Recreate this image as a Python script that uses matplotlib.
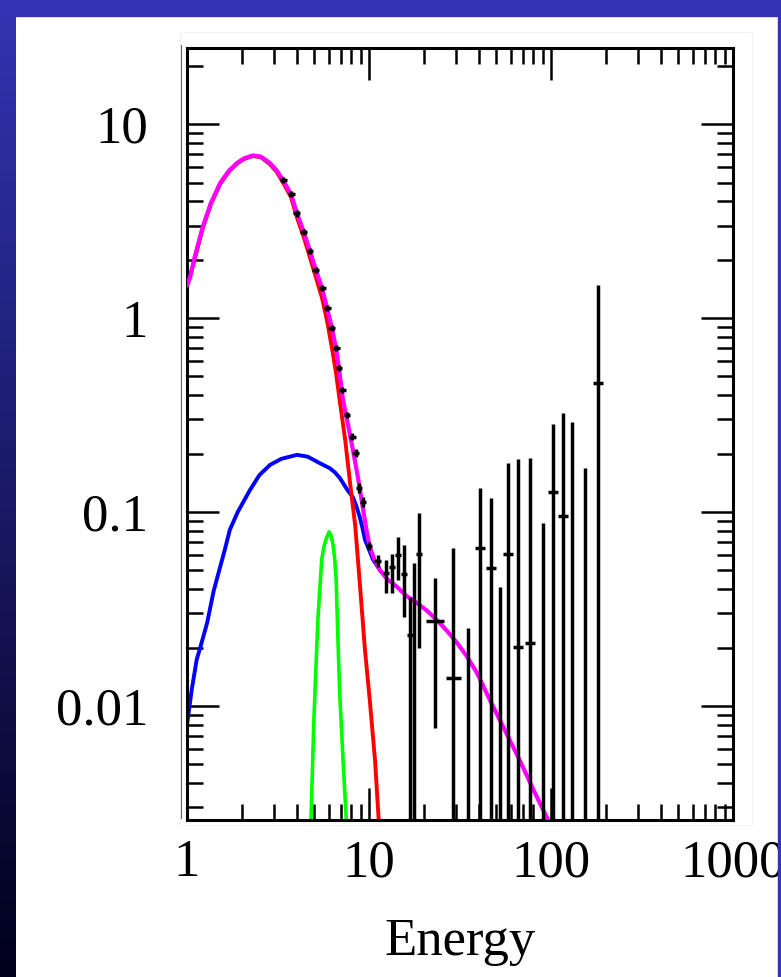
import numpy as np
import matplotlib.pyplot as plt
from matplotlib.lines import Line2D
from matplotlib.patches import Rectangle
from matplotlib.ticker import FixedLocator, FuncFormatter, NullFormatter

plt.rcParams['font.family'] = ['Liberation Serif', 'DejaVu Serif']

# model components
tot_e = [1.0, 1.04, 1.1, 1.22, 1.35, 1.52, 1.7, 1.88, 2.05, 2.30, 2.55, 2.86,
         3.1, 3.37, 3.73, 4.02, 4.39, 4.74, 5.11, 5.52, 5.88, 6.26, 6.59, 6.84,
         7.2, 7.57, 8.16, 8.7, 9.3, 9.7, 10.1, 10.7, 11.5, 12.6, 14.3, 16.0,
         18.3, 20.8, 23.6, 26.8, 30.5, 34.5, 39.2, 46.2, 55.0, 67.6, 80.0, 96.0,
         105.0]
tot_f = [1.48, 1.62, 2.05, 2.95, 3.9, 4.97, 5.75, 6.3, 6.65, 6.9, 6.8, 6.3,
         5.8, 5.14, 4.36, 3.47, 2.77, 2.21, 1.77, 1.43, 1.13, 0.887, 0.70, 0.552,
         0.377, 0.30, 0.209, 0.15, 0.102, 0.080, 0.066, 0.057, 0.050, 0.045, 0.041,
         0.037, 0.034, 0.031, 0.0277, 0.0244, 0.0211, 0.018, 0.0148, 0.0107, 0.0077,
         0.0052, 0.0037, 0.0026, 0.0019]

bb_e = [1.0, 1.1, 1.22, 1.35, 1.52, 1.7, 1.88, 2.05, 2.30, 2.55, 2.86, 3.1,
        3.37, 3.73, 4.02, 4.39, 4.74, 5.11, 5.52, 5.88, 6.26, 6.59, 6.9, 7.4,
        7.87, 8.4, 8.9, 9.5, 10.1, 10.8, 11.3, 11.6]
bb_f = [1.45, 2.0, 2.9, 3.85, 4.9, 5.7, 6.25, 6.6, 6.85, 6.75, 6.2, 5.7,
        5.0, 4.2, 3.3, 2.6, 2.05, 1.62, 1.27, 0.97, 0.70, 0.52, 0.377, 0.235,
        0.141, 0.085, 0.043, 0.0195, 0.0107, 0.0052, 0.0026, 0.0018]

pl_e = [1.0, 1.06, 1.13, 1.2, 1.29, 1.4, 1.52, 1.6, 1.72, 1.9, 2.22, 2.5, 2.86,
        3.3, 4.02, 4.6, 5.4, 6.1, 6.5, 6.9, 7.2, 7.6, 8.16, 8.5, 8.9, 9.2, 9.5,
        10.0, 10.5, 11.5]
pl_f = [0.008, 0.012, 0.0173, 0.021, 0.0268, 0.039, 0.052, 0.062, 0.081, 0.10,
        0.13, 0.155, 0.175, 0.188, 0.197, 0.193, 0.178, 0.168, 0.160, 0.150,
        0.141, 0.130, 0.119, 0.108, 0.094, 0.083, 0.072, 0.064, 0.057, 0.050]

fe_e = [4.75, 4.80, 4.98, 5.1, 5.24, 5.5, 5.65, 5.8, 6.03, 6.18, 6.34, 6.47,
        6.6, 6.75, 6.9, 7.2, 7.5, 7.6]
fe_f = [0.0018, 0.0026, 0.0085, 0.015, 0.028, 0.057, 0.066, 0.072, 0.079, 0.076,
        0.068, 0.058, 0.045, 0.022, 0.0118, 0.0053, 0.0026, 0.0018]

# data points: energy, flux, lower / upper flux, bin half-width factor
pt_e = [3.37, 3.73, 4.02, 4.39, 4.74, 5.11, 5.52, 5.88, 6.26, 6.59, 6.84, 7.11,
        7.57, 8.07, 8.48, 8.81, 9.27, 10.0, 11.2, 12.4, 13.4, 14.4, 15.6, 16.8,
        17.7, 18.8, 23.0, 29.0, 35.0, 40.7, 46.8, 52.5, 58.0, 65.9, 76.7, 90.4,
        102.6, 116.4, 130.4, 153.7, 181.3]
pt_f = [5.14, 4.36, 3.47, 2.77, 2.21, 1.77, 1.43, 1.13, 0.887, 0.70, 0.552, 0.425,
        0.316, 0.244, 0.201, 0.133, 0.112, 0.0668, 0.056, 0.0485, 0.052, 0.060,
        0.0479, 0.0232, 0.002, 0.0608, 0.0274, 0.0139, 0.002, 0.0652, 0.0514,
        0.002, 0.0608, 0.0201, 0.0211, 0.002, 0.127, 0.0953, 0.002, 0.002, 0.462]
pt_lo = [4.95, 4.20, 3.34, 2.67, 2.13, 1.70, 1.38, 1.09, 0.855, 0.675, 0.532, 0.410,
         0.304, 0.234, 0.192, 0.125, 0.106, 0.0639, 0.052, 0.0382, 0.0382, 0.0446,
         0.0288, 0.0001, 0.0001, 0.0199, 0.0077, 0.0001, 0.0001, 0.0001, 0.0001,
         0.0001, 0.0001, 0.0001, 0.0001, 0.0001, 0.0001, 0.0001, 0.0001, 0.0001,
         0.0001]
pt_hi = [5.33, 4.52, 3.60, 2.87, 2.29, 1.84, 1.48, 1.17, 0.920, 0.726, 0.572, 0.440,
         0.328, 0.254, 0.211, 0.141, 0.119, 0.0700, 0.060, 0.0566, 0.0608, 0.0743,
         0.0676, 0.0365, 0.0546, 0.0989, 0.0457, 0.0652, 0.0252, 0.133, 0.118,
         0.0410, 0.179, 0.188, 0.190, 0.0877, 0.284, 0.324, 0.291, 0.169, 1.48]
pt_bin = [1.045] * 19 + [1.035] * 7 + [1.12, 1.10, 1.07] + [1.065] * 11 + [1.07]

fig = plt.figure(figsize=(7.81, 9.77), dpi=100)
fig.patch.set_facecolor('white')

# slide frame: blue strips, the left one fading to black
strip = fig.add_axes([0, 0, 16 / 781, 1])
t = np.linspace(0, 1, 256)[:, None]
top_c = np.array([52, 52, 180]) / 255
bot_c = np.array([0, 0, 28]) / 255
strip.imshow((1 - t)[..., None] * top_c + t[..., None] * bot_c, aspect='auto')
strip.axis('off')
fig.add_artist(Rectangle((0, 1 - 16 / 977), 1, 16 / 977, transform=fig.transFigure,
                         color='#3434b4', zorder=5))
fig.add_artist(Rectangle((778 / 781, 0), 3 / 781, 1, transform=fig.transFigure,
                         color='#3434b4', zorder=5))
# faint edge of the pasted plot and the stray line left of the axis
fig.add_artist(Rectangle((180 / 781, 1 - 825 / 977), 572 / 781, 793 / 977,
                         transform=fig.transFigure, fill=False, ec='#f2f2f2', lw=0.8))
fig.add_artist(Line2D([181 / 781, 181 / 781], [1 - 818 / 977, 1 - 45 / 977],
                      transform=fig.transFigure, color='#666666', lw=0.8))

ax = fig.add_axes([187 / 781, 1 - 820 / 977, 546 / 781, 772 / 977])
ax.set_xscale('log')
ax.set_yscale('log')

ax.plot(pl_e, pl_f, color='#0000ff', lw=2.8, zorder=2, solid_joinstyle='round')
ax.plot(bb_e, bb_f, color='#ff0000', lw=2.8, zorder=2, solid_joinstyle='round')
ax.plot(fe_e, fe_f, color='#00ff00', lw=2.6, zorder=2, solid_joinstyle='round')
ax.plot(tot_e, tot_f, color='#ff00ff', lw=3.0, zorder=3, solid_joinstyle='round')

e = np.array(pt_e)
f = np.array(pt_f)
b = np.array(pt_bin)
ax.errorbar(e, f, yerr=[f - np.array(pt_lo), np.array(pt_hi) - f],
            xerr=[e - e / b, e * b - e], fmt='none', ecolor='black',
            elinewidth=2.5, capsize=0, zorder=4)

ax.set_xlim(1, 1000)
ax.set_ylim(0.00258, 24.7)

ax.xaxis.set_major_locator(FixedLocator([1, 10, 100, 1000]))
ax.yaxis.set_major_locator(FixedLocator([0.01, 0.1, 1, 10]))
xminor = [m * 10 ** k for k in range(0, 3) for m in range(2, 10)]
yminor = [m * 10 ** k for k in range(-3, 2) for m in range(2, 10)]
ax.xaxis.set_minor_locator(FixedLocator(xminor))
ax.yaxis.set_minor_locator(FixedLocator(yminor))
fmt = FuncFormatter(lambda v, _: f'{v:g}')
ax.xaxis.set_major_formatter(fmt)
ax.yaxis.set_major_formatter(fmt)
ax.xaxis.set_minor_formatter(NullFormatter())
ax.yaxis.set_minor_formatter(NullFormatter())

ax.tick_params(which='both', direction='in', top=True, right=True, width=1.8,
               labelsize=38)
ax.tick_params(which='major', length=23)
ax.tick_params(which='minor', length=11.5)
ax.tick_params(axis='y', which='major', pad=28)
ax.tick_params(axis='x', which='major', pad=14)
for s in ax.spines.values():
    s.set_linewidth(2.2)

ax.set_xlabel('Energy', fontsize=38, labelpad=22)

fig.savefig('out.png', dpi=100)
